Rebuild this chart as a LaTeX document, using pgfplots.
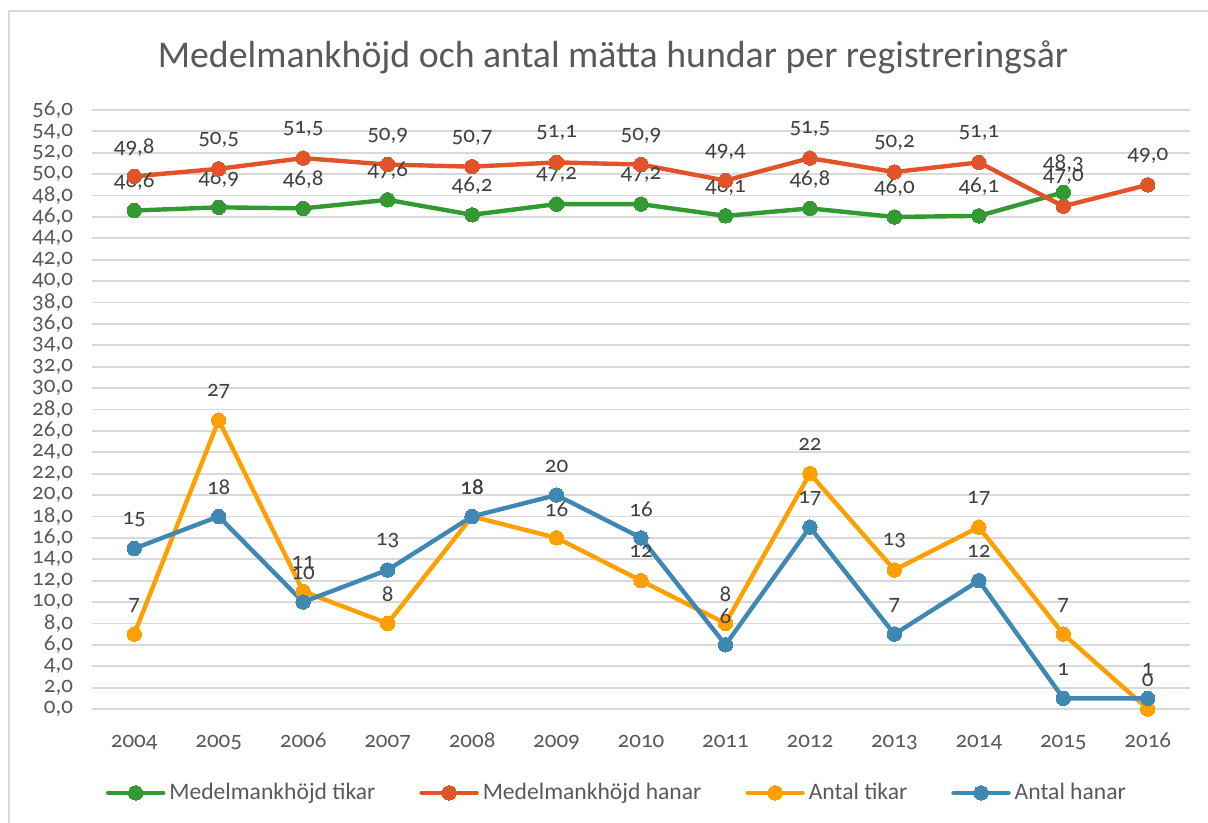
\documentclass[border=0pt]{standalone}
\usepackage{pgfplots}
\pgfplotsset{compat=1.18}
\usepackage{fontspec}
\setmainfont{Carlito}[Numbers=OldStyle]
\definecolor{cgreen}{HTML}{339933}
\definecolor{cred}{HTML}{E2532B}
\definecolor{corange}{HTML}{FF9F00}
\definecolor{cblue}{HTML}{3F88B4}
\definecolor{cgrid}{HTML}{D9D9D9}
\definecolor{ctext}{HTML}{595959}
\definecolor{clabel}{HTML}{404040}
\begin{document}
\begin{tikzpicture}[x=1pt,y=1pt]
\path[use as bounding box] (0,0) rectangle (604,411.5);
\draw[cgrid,line width=1pt] (4.25,0) -- (4.25,405.75) -- (604,405.75);
\node[text=ctext,font=\fontsize{18.9}{21}\selectfont] at (306.5,383) {Medelmankhöjd och antal mätta hundar per registreringsår};
\begin{axis}[
  at={(46pt,57pt)}, anchor=south west,
  scale only axis, width=549pt, height=299.5pt,
  xmin=2003.5, xmax=2016.5, ymin=0, ymax=56,
  xtick={2004,2005,2006,2007,2008,2009,2010,2011,2012,2013,2014,2015,2016},
  xticklabels={2004,2005,2006,2007,2008,2009,2010,2011,2012,2013,2014,2015,2016},
  ytick={0,2,...,56},
  yticklabel={\pgfmathprintnumber[fixed,fixed zerofill,precision=1,use comma,assume math mode=true]{\tick}},
  tick label style={font=\fontsize{11.5}{13}\selectfont, text=ctext},
  yticklabel style={xshift=-6pt},
  xticklabel style={anchor=base, yshift=-19.5pt},
  major tick length=0pt,
  axis line style={draw=none},
  ymajorgrids, grid style={cgrid, line width=0.9pt},
  clip=false,
  every axis plot/.append style={line width=2.2pt, line cap=round, line join=round, mark=*, mark size=3.6pt},
  nodes near coords,
  every node near coord/.style={anchor=center, yshift=14.5pt, font=\fontsize{11.5}{13}\selectfont, text=clabel},
  legend style={at={(0.479,-0.14)}, anchor=center, draw=none, fill=none, legend columns=4,
    font=\fontsize{11.8}{13}\selectfont, text=ctext,
    /tikz/every even column/.append style={column sep=20pt}},
  legend cell align=left,
  legend image code/.code={\draw[#1, mark repeat=2, mark phase=2] plot coordinates {(0pt,0pt)(13.75pt,0pt)(27.5pt,0pt)};},
]
\addplot[cgreen, mark options={fill=cgreen, draw=cgreen, line width=0pt},
  nodes near coords={\pgfmathprintnumber[fixed,fixed zerofill,precision=1,use comma,assume math mode=true]{\pgfplotspointmeta}}]
  coordinates {(2004,46.6)(2005,46.9)(2006,46.8)(2007,47.6)(2008,46.2)(2009,47.2)(2010,47.2)(2011,46.1)(2012,46.8)(2013,46.0)(2014,46.1)(2015,48.3)};
\addlegendentry{Medelmankhöjd tikar}
\addplot[cred, mark options={fill=cred, draw=cred, line width=0pt},
  nodes near coords={\pgfmathprintnumber[fixed,fixed zerofill,precision=1,use comma,assume math mode=true]{\pgfplotspointmeta}}]
  coordinates {(2004,49.8)(2005,50.5)(2006,51.5)(2007,50.9)(2008,50.7)(2009,51.1)(2010,50.9)(2011,49.4)(2012,51.5)(2013,50.2)(2014,51.1)(2015,47.0)(2016,49.0)};
\addlegendentry{Medelmankhöjd hanar}
\addplot[corange, mark options={fill=corange, draw=corange, line width=0pt},
  nodes near coords={\pgfmathprintnumber[fixed,precision=0,assume math mode=true]{\pgfplotspointmeta}}]
  coordinates {(2004,7)(2005,27)(2006,11)(2007,8)(2008,18)(2009,16)(2010,12)(2011,8)(2012,22)(2013,13)(2014,17)(2015,7)(2016,0)};
\addlegendentry{Antal tikar}
\addplot[cblue, mark options={fill=cblue, draw=cblue, line width=0pt},
  nodes near coords={\pgfmathprintnumber[fixed,precision=0,assume math mode=true]{\pgfplotspointmeta}}]
  coordinates {(2004,15)(2005,18)(2006,10)(2007,13)(2008,18)(2009,20)(2010,16)(2011,6)(2012,17)(2013,7)(2014,12)(2015,1)(2016,1)};
\addlegendentry{Antal hanar}
\end{axis}
\end{tikzpicture}
\end{document}
